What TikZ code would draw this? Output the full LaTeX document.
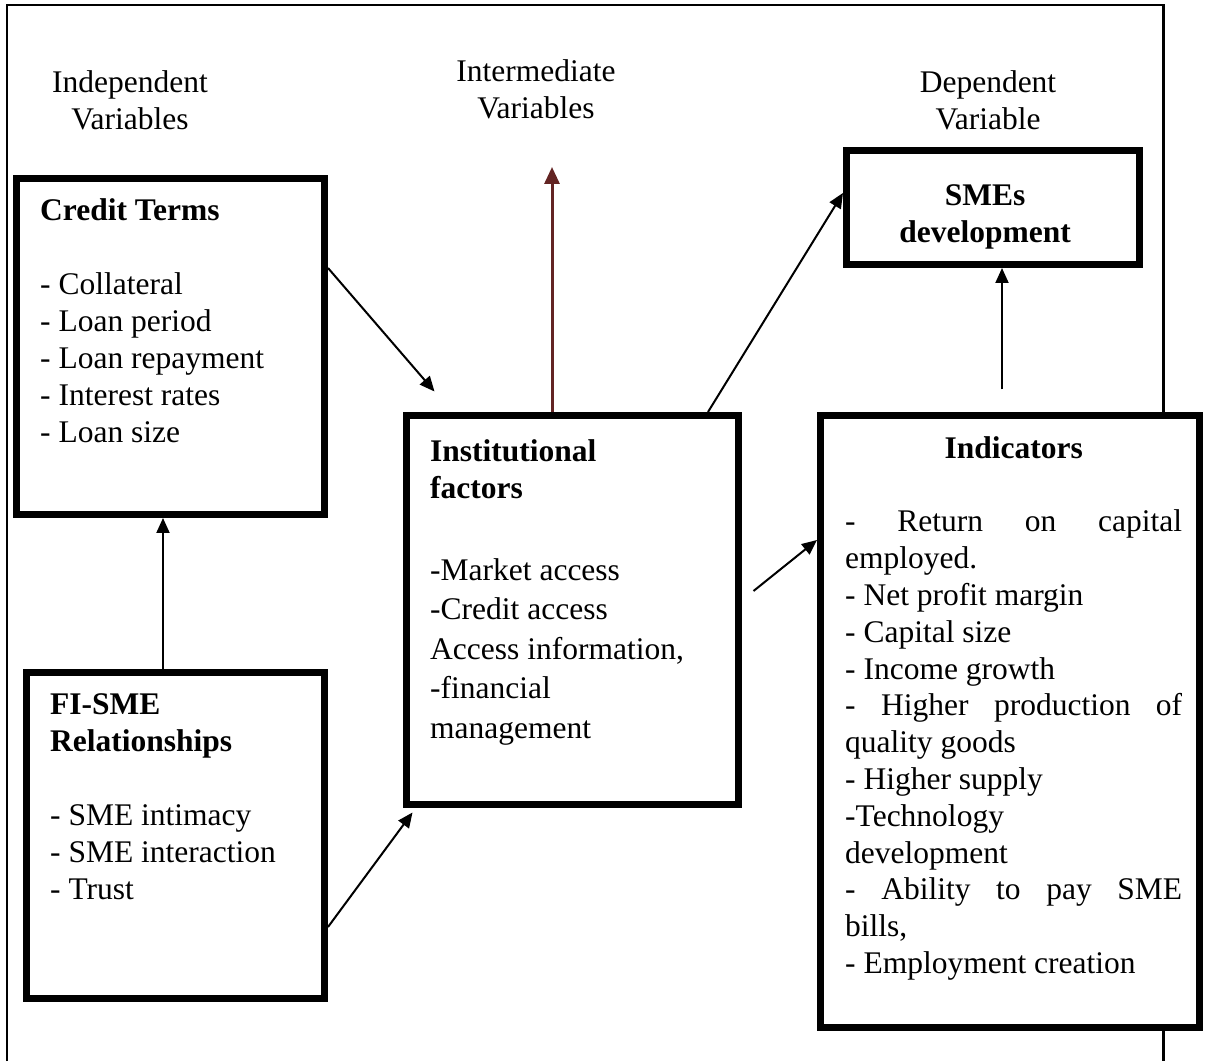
\documentclass[tikz,border=0pt]{standalone}
\usepackage{fontspec}
\setmainfont{Liberation Serif}
\usepackage{xcolor}
\usetikzlibrary{arrows.meta,calc,positioning}
\definecolor{arrowbrown}{HTML}{632423}

\begin{document}
\begin{tikzpicture}[x=1pt, y=1pt]
		\tikzstyle{box}=[draw, line width=7pt, fill=white, inner sep=0pt]
		\tikzstyle{txt}=[inner sep=0pt, align=left, font=\fontsize{31.5}{37}\selectfont, execute at begin node={\spaceskip=0pt\xspaceskip=0pt}]
		\tikzstyle{arr}=[line width=2pt, -{Triangle[length=15pt,width=13pt]}]
		\useasboundingbox (0,0) rectangle (1205,1061);
		\draw [line width=2.2pt] (7,0) -- (7,1056) -- (1163.5,1056) -- (1163.5,0);
		\node [box, minimum width=308pt, minimum height=336pt] (credit) at (170.5,714.5) {};
		\node [box, minimum width=298pt, minimum height=326pt] (fisme) at (175.5,225.5) {};
		\node [box, minimum width=332pt, minimum height=389pt] (inst) at (572.5,451) {};
		\node [box, minimum width=293pt, minimum height=114pt] (smes) at (993,853.5) {};
		\node [box, minimum width=379pt, minimum height=612pt] (ind) at (1010,339.5) {};
		\coordinate (interTip) at (552,894);
		\draw [arr] ([yshift=78.5pt]credit.east) -- ([xshift=31.5pt,yshift=20.5pt]inst.north west);
		\draw [arr] ([yshift=-91.5pt]fisme.east) -- ([xshift=9.5pt,yshift=-4.5pt]inst.south west);
		\draw [arr] ([xshift=-12.5pt]fisme.north) -- ([xshift=-7.5pt]credit.south);
		\draw [arr] ([xshift=11.5pt,yshift=19pt]inst.east) -- ([yshift=181.5pt]ind.west);
		\draw [arr] ([xshift=135.5pt]inst.north) -- ([yshift=14.5pt]smes.west);
		\draw [arr] ([xshift=-8pt,yshift=22.5pt]ind.north) -- ([xshift=9pt]smes.south);
		\draw [line width=3pt, arrowbrown, -{Triangle[length=17pt,width=15pt]}] ([xshift=-20.5pt]inst.north) -- (interTip);
		\node [txt, text width=250pt, align=center, anchor=base] (indepLbl) at (130,968) {Independent\\Variables};
		\node [txt, text width=250pt, align=center, anchor=base] (interLbl) at (536,979) {Intermediate\\Variables};
		\node [txt, text width=250pt, align=center, anchor=base] (depLbl) at (988,968) {Dependent\\Variable};
		\node [txt, text width=270pt, anchor=base west] (creditTxt) at (40,840) {\textbf{Credit Terms}\\[37pt]- Collateral\\- Loan period\\- Loan repayment\\- Interest rates\\- Loan size};
		\node [txt, text width=260pt, anchor=base west] (fismeTxt) at (50,346) {\textbf{FI-SME}\\\textbf{Relationships}\\[37pt]- SME intimacy\\- SME interaction\\- Trust};
		\node [txt, text width=300pt, anchor=base west, font=\fontsize{31.5}{39.5}\selectfont] (instTxt) at (430,599) {\textbf{Institutional}\\[-2.5pt]\textbf{factors}\\[42pt]-Market access\\-Credit access\\Access information,\\-financial\\management};
		\node [txt, text width=280pt, align=center, anchor=base] (smesTxt) at (985,855) {\textbf{SMEs}\\\textbf{development}};
		\node [txt, text width=337pt, anchor=base west, font=\fontsize{31.5}{36.8}\selectfont] (indTxt) at (845,602) {\makebox[\linewidth]{\textbf{Indicators}}\\[36.2pt]\makebox[\linewidth][s]{- Return on capital}\\employed.\\- Net profit margin\\- Capital size\\- Income growth\\\makebox[\linewidth][s]{- Higher production of}\\quality goods\\- Higher supply\\-Technology\\development\\\makebox[\linewidth][s]{- Ability to pay SME}\\bills,\\- Employment creation};
		\end{tikzpicture}
\end{document}
